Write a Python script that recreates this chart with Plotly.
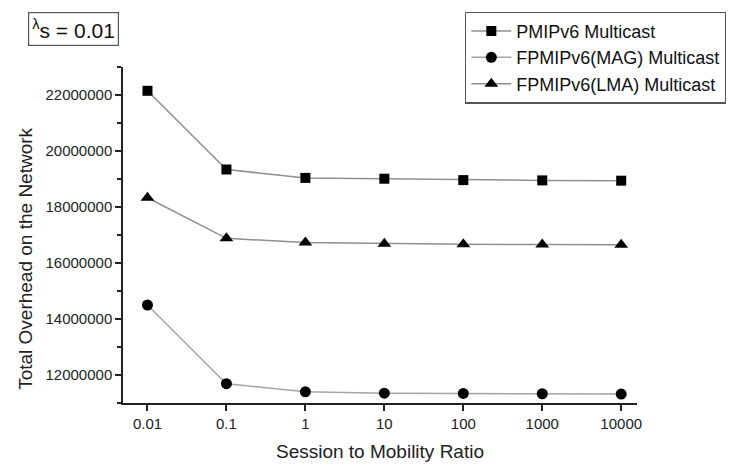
import plotly.graph_objects as go

# Session-to-mobility ratios (x) and total network overhead per scheme
ratios = [0.01, 0.1, 1, 10, 100, 1000, 10000]
ratio_labels = ["0.01", "0.1", "1", "10", "100", "1000", "10000"]

pmipv6 = [22150000, 19340000, 19040000, 19010000, 18960000, 18950000, 18940000]
fpmipv6_mag = [14500000, 11690000, 11400000, 11350000, 11340000, 11330000, 11320000]
fpmipv6_lma = [18330000, 16880000, 16730000, 16690000, 16670000, 16660000, 16650000]

y_major = [12000000, 14000000, 16000000, 18000000, 20000000, 22000000]

FONT = "Liberation Sans, Arial, sans-serif"

fig = go.Figure()

fig.add_trace(go.Scatter(
    x=ratios, y=pmipv6, name="PMIPv6 Multicast", mode="lines+markers",
    line=dict(color="#8f8f8f", width=1.5),
    marker=dict(symbol="square", size=10, color="black"),
))
fig.add_trace(go.Scatter(
    x=ratios, y=fpmipv6_mag, name="FPMIPv6(MAG) Multicast", mode="lines+markers",
    line=dict(color="#a5a5a5", width=1.5),
    marker=dict(symbol="circle", size=11, color="black"),
))
fig.add_trace(go.Scatter(
    x=ratios, y=fpmipv6_lma, name="FPMIPv6(LMA) Multicast", mode="lines+markers",
    line=dict(color="#8f8f8f", width=1.5),
    marker=dict(symbol="triangle-up", size=12, color="black"),
))

fig.update_layout(
    width=738, height=471,
    margin=dict(l=122.5, r=96.4, t=62, b=57),
    paper_bgcolor="white", plot_bgcolor="white",
    font=dict(family=FONT, color="#222"),
    showlegend=True,
    legend=dict(
        x=0.6656, y=1.165, xanchor="left", yanchor="top",
        bgcolor="white", bordercolor="#555", borderwidth=1.2,
        font=dict(size=18, family=FONT, color="#111"),
        tracegroupgap=0, itemwidth=40,
    ),
    xaxis=dict(
        type="log", range=[-2.31, 4.2],
        tickvals=ratios, ticktext=ratio_labels,
        ticks="outside", ticklen=6, tickwidth=1.5, tickcolor="#222",
        showline=True, linecolor="#222", linewidth=1.5,
        showgrid=False, zeroline=False,
        tickfont=dict(size=15, family=FONT, color="#222"),
        title=dict(text="Session to Mobility Ratio", standoff=14,
                   font=dict(size=19, family=FONT, color="#222")),
    ),
    yaxis=dict(
        range=[11000000, 23000000],
        tickvals=y_major, tickformat="d",
        ticks="outside", ticklen=6, tickwidth=1.5, tickcolor="#222",
        showline=True, linecolor="#222", linewidth=1.5,
        showgrid=False, zeroline=False,
        tickfont=dict(size=15, family=FONT, color="#222"),
        minor=dict(dtick=1000000, tick0=11000000, ticks="outside",
                   ticklen=4, tickwidth=1.5, tickcolor="#222", showgrid=False),
    ),
    annotations=[
        dict(text="Total Overhead on the Network", textangle=-90,
             xref="paper", yref="paper", x=-0.19, y=0.43,
             xanchor="center", yanchor="middle", showarrow=False,
             font=dict(size=19, family=FONT, color="#222")),
        dict(text="<sup>λ</sup>s = 0.01",
             xref="paper", yref="paper", x=-0.0955, y=1.112,
             xanchor="center", yanchor="middle", showarrow=False,
             bordercolor="#555", borderwidth=1.2, borderpad=3, bgcolor="white",
             font=dict(size=21, family=FONT, color="#111")),
    ],
)

fig.write_html("out.html")
